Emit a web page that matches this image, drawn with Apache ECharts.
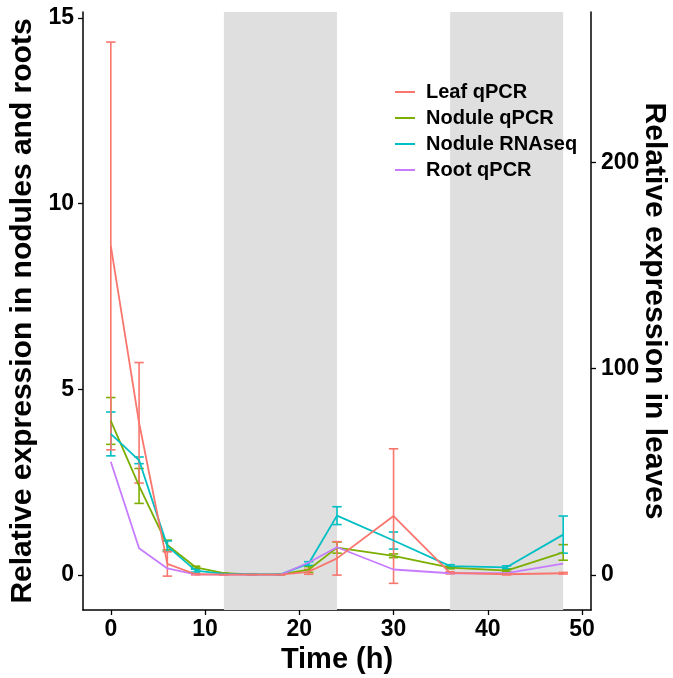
<!DOCTYPE html>
<html>
<head>
<meta charset="utf-8">
<script src="https://cdn.jsdelivr.net/npm/echarts@6/dist/echarts.min.js"></script>
<style>html,body{margin:0;padding:0;background:#fff;}#c{width:673px;height:678px;}</style>
</head>
<body>
<div id="c"></div>
<script>
// ---- data ----
const times = [0, 3, 6, 9, 12, 15, 18, 21, 24, 30, 36, 42, 48];
// leaf values on the right axis scale
const leafMean = [159.5, 73.8, 5.4, 0.4, 0.2, 0.2, 0.2, 1.6, 8.1, 28.6, 1.1, 0.4, 0.9];
const leafErr  = [98.8, 29.2, 5.9, 0.3, 0.2, 0.2, 0.2, 1.2, 8.1, 32.6, 0.5, 0.3, 0.4];
const noduleMean = [4.15, 2.40, 0.81, 0.21, 0.05, 0.02, 0.02, 0.15, 0.74, 0.52, 0.20, 0.12, 0.61];
const noduleErr  = [0.63, 0.47, 0.13, 0.03, 0.01, 0.01, 0.01, 0.08, 0.15, 0.05, 0.03, 0.03, 0.21];
const rnaseqMean = [3.80, 3.09, 0.78, 0.12, 0.03, 0.02, 0.02, 0.31, 1.60, 0.93, 0.24, 0.21, 1.09];
const rnaseqErr  = [0.59, 0.09, 0.14, 0.04, 0.01, 0.01, 0.01, 0.05, 0.24, 0.23, 0.04, 0.04, 0.50];
const rootMean = [3.05, 0.72, 0.18, 0.02, 0.01, 0.01, 0.01, 0.34, 0.75, 0.15, 0.05, 0.05, 0.31];
const seriesNames = ['Leaf qPCR', 'Nodule qPCR', 'Nodule RNAseq', 'Root qPCR'];
const darkPeriods = [[12, 24], [36, 48]];
const xTicks = [0, 10, 20, 30, 40, 50];
const yLeftTicks = [0, 5, 10, 15];
const yRightTicks = [0, 100, 200];
const leafScale = 18; // right axis = left axis * 18

// ---- styling ----
const colors = ['#F8766D', '#7CAE00', '#00BFC4', '#C77CFF'];
const FONT = "'Liberation Sans', Arial, Helvetica, sans-serif";
const yMinL = -0.94, yMaxL = 15.16;

function pairs(means) { return times.map((t, i) => [t, means[i]]); }
function errData(means, errs) { return times.map((t, i) => [t, means[i] - errs[i], means[i] + errs[i]]); }

function errorSeries(name, means, errs, color, yIdx) {
  return {
    type: 'custom',
    name: name + ' err',
    yAxisIndex: yIdx,
    z: 3,
    silent: true,
    encode: { x: 0, y: [1, 2] },
    data: errData(means, errs),
    renderItem: function (params, api) {
      const x = api.value(0), lo = api.value(1), hi = api.value(2);
      const pLo = api.coord([x, lo]), pHi = api.coord([x, hi]);
      const pL = api.coord([x - 0.5, hi]), pR = api.coord([x + 0.5, hi]);
      const half = (pR[0] - pL[0]) / 2;
      const st = { stroke: color, lineWidth: 1.6 };
      return {
        type: 'group',
        children: [
          { type: 'line', shape: { x1: pLo[0], y1: pLo[1], x2: pHi[0], y2: pHi[1] }, style: st },
          { type: 'line', shape: { x1: pHi[0] - half, y1: pHi[1], x2: pHi[0] + half, y2: pHi[1] }, style: st },
          { type: 'line', shape: { x1: pLo[0] - half, y1: pLo[1], x2: pLo[0] + half, y2: pLo[1] }, style: st }
        ]
      };
    }
  };
}

function lineSeries(name, means, color, yIdx) {
  return {
    type: 'line',
    name: name,
    yAxisIndex: yIdx,
    data: pairs(means),
    symbol: 'none',
    z: 4,
    lineStyle: { color: color, width: 1.8 },
    itemStyle: { color: color }
  };
}

const axisLineStyle = { show: true, onZero: false, lineStyle: { color: '#000', width: 1.5 } };
const tickStyle = { show: true, length: 5, lineStyle: { color: '#000', width: 1.3 } };
const labelStyle = { color: '#000', fontFamily: FONT, fontWeight: 'bold', fontSize: 23 };
const titleStyle = { color: '#000', fontFamily: FONT, fontWeight: 'bold', fontSize: 30 };

const option = {
  animation: false,
  backgroundColor: '#fff',
  color: colors,
  grid: { left: 83, top: 12, width: 508, height: 598, containLabel: false, outerBoundsMode: 'none' },
  legend: {
    data: seriesNames,
    orient: 'vertical',
    left: 395,
    top: 81,
    padding: 0,
    icon: 'rect',
    itemWidth: 20,
    itemHeight: 2,
    itemGap: 4,
    textStyle: { color: '#000', fontFamily: FONT, fontWeight: 'bold', fontSize: 20, lineHeight: 22, padding: [0, 0, 0, 6] }
  },
  xAxis: {
    type: 'value',
    min: -2.95,
    max: 50.95,
    name: 'Time (h)',
    nameLocation: 'middle',
    nameGap: 31,
    nameTextStyle: { color: '#000', fontFamily: FONT, fontWeight: 'bold', fontSize: 29 },
    axisLine: axisLineStyle,
    axisTick: Object.assign({ customValues: xTicks }, tickStyle),
    axisLabel: Object.assign({ customValues: xTicks, margin: 8 }, labelStyle),
    splitLine: { show: false }
  },
  yAxis: [
    {
      type: 'value',
      min: yMinL,
      max: yMaxL,
      position: 'left',
      name: 'Relative expression in nodules and roots',
      nameLocation: 'middle',
      nameGap: 35,
      nameTextStyle: titleStyle,
      axisLine: axisLineStyle,
      axisTick: Object.assign({ customValues: yLeftTicks }, tickStyle),
      axisLabel: Object.assign({ customValues: yLeftTicks, margin: 9 }, labelStyle),
      splitLine: { show: false }
    },
    {
      type: 'value',
      min: yMinL * leafScale,
      max: yMaxL * leafScale,
      position: 'right',
      name: 'Relative expression in leaves',
      nameLocation: 'middle',
      nameRotate: -90,
      nameGap: 48,
      nameMoveOverlap: false,
      nameTextStyle: titleStyle,
      axisLine: axisLineStyle,
      axisTick: Object.assign({ customValues: yRightTicks }, tickStyle),
      axisLabel: Object.assign({ customValues: yRightTicks, margin: 10 }, labelStyle),
      splitLine: { show: false }
    }
  ],
  series: [
    {
      type: 'line',
      name: 'dark',
      data: [],
      z: 1,
      silent: true,
      markArea: {
        silent: true,
        itemStyle: { color: '#DFDFDF' },
        data: darkPeriods.map(p => [{ xAxis: p[0] }, { xAxis: p[1] }])
      }
    },
    errorSeries('Nodule qPCR', noduleMean, noduleErr, colors[1], 0),
    errorSeries('Nodule RNAseq', rnaseqMean, rnaseqErr, colors[2], 0),
    errorSeries('Leaf qPCR', leafMean, leafErr, colors[0], 1),
    lineSeries('Nodule qPCR', noduleMean, colors[1], 0),
    lineSeries('Nodule RNAseq', rnaseqMean, colors[2], 0),
    lineSeries('Root qPCR', rootMean, colors[3], 0),
    lineSeries('Leaf qPCR', leafMean, colors[0], 1)
  ]
};

const chart = echarts.init(document.getElementById('c'), null, { renderer: 'canvas' });
chart.setOption(option);
</script>
</body>
</html>
